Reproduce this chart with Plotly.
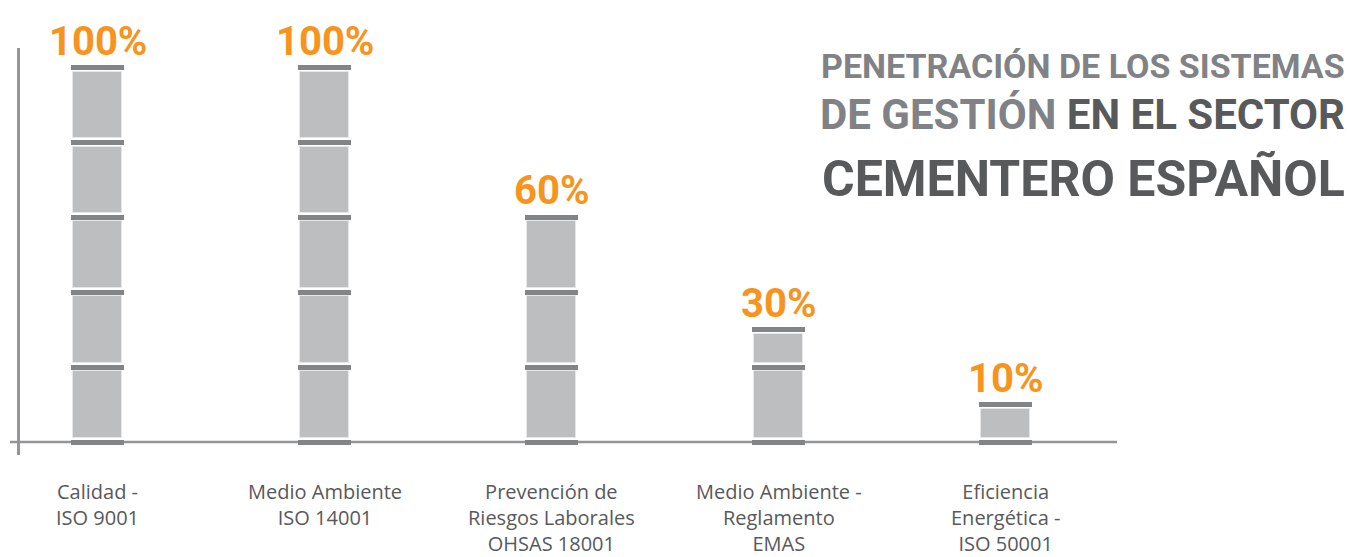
import plotly.graph_objects as go

# ---- data ----
categories = [
    "Calidad -<br>ISO 9001",
    "Medio Ambiente<br>ISO 14001",
    "Prevención de<br>Riesgos Laborales<br>OHSAS 18001",
    "Medio Ambiente -<br>Reglamento<br>EMAS",
    "Eficiencia<br>Energética -<br>ISO 50001",
]
values = [100, 100, 60, 30, 10]
value_labels = ["100%", "100%", "60%", "30%", "10%"]
segment_step = 20
title_lines = [
    "PENETRACIÓN DE LOS SISTEMAS",
    "DE GESTIÓN",
    "EN EL SECTOR",
    "CEMENTERO ESPAÑOL",
]

# ---- style ----
W, H = 1347, 557
ML, MR, MT, MB = 20, 230, 48, 102
PW, PH = W - ML - MR, H - MT - MB
ORANGE = "#f7941d"
CAP = "#838486"
SEG = "#bcbec0"
SEG_LINE = "#e6e7e8"
AXIS = "#939598"
GRAY_T = "#808285"
DARK_T = "#58595b"
COND = "Roboto, Liberation Sans, Arial, sans-serif"

px_per_unit_y = 3.745
cap_half = 2.5 / px_per_unit_y
gap = 1.6 / px_per_unit_y

seg_x, seg_base, seg_h = [], [], []
cap_x, cap_base = [], []
for i, v in enumerate(values):
    bounds = list(range(0, v, segment_step)) + [v]
    for b in bounds:
        cap_x.append(i)
        cap_base.append(b - cap_half)
    for lo, hi in zip(bounds[:-1], bounds[1:]):
        lo2 = lo + cap_half + gap
        hi2 = hi - cap_half - gap
        seg_x.append(i)
        seg_base.append(lo2)
        seg_h.append(hi2 - lo2)

fig = go.Figure()
fig.add_trace(go.Bar(
    x=seg_x, y=seg_h, base=seg_base, width=49 / 227,
    marker=dict(color=SEG, line=dict(color=SEG_LINE, width=1)),
    hoverinfo="skip", showlegend=False,
))
fig.add_trace(go.Bar(
    x=cap_x, y=[2 * cap_half] * len(cap_x), base=cap_base, width=53 / 227,
    marker=dict(color=CAP, line=dict(width=0)),
    hoverinfo="skip", showlegend=False,
))

# x range so bar centres land at 97.5 + 227*k px
r0 = -(97.5 - ML) / 227
r1 = r0 + PW / 227
y0 = -(H - MB - 442) / px_per_unit_y
y1 = (442 - MT) / px_per_unit_y

annotations = []
for i, (v, lab) in enumerate(zip(values, value_labels)):
    annotations.append(dict(
        x=i, y=v, xref="x", yref="y", text=lab, showarrow=False,
        yanchor="bottom", xanchor="center", yshift=1,
        font=dict(family=COND, size=40, color=ORANGE, weight="bold"),
    ))
for i, c in enumerate(categories):
    annotations.append(dict(
        x=i, y=(H - MB - 476) / PH, xref="x", yref="paper", text=c,
        showarrow=False, yanchor="top", xanchor="center", align="center",
        font=dict(family="Open Sans, Lato, sans-serif", size=20, color=DARK_T),
    ))

def py(p):
    return (H - MB - p) / PH

xr = (1347 - ML) / PW
annotations.append(dict(
    x=xr, y=py(66.5), xref="paper", yref="paper", text=title_lines[0],
    showarrow=False, xanchor="right", yanchor="middle",
    font=dict(family=COND, size=34, color=GRAY_T, weight="bold"),
))
annotations.append(dict(
    x=xr, y=py(114), xref="paper", yref="paper",
    text=f"{title_lines[1]} <span style='color:{DARK_T}'>{title_lines[2]}</span>",
    showarrow=False, xanchor="right", yanchor="middle",
    font=dict(family=COND, size=42, color=GRAY_T, weight="bold"),
))
annotations.append(dict(
    x=xr, y=py(178.5), xref="paper", yref="paper", text=title_lines[3],
    showarrow=False, xanchor="right", yanchor="middle",
    font=dict(family=COND, size=50, color=DARK_T, weight="bold"),
))

fig.update_layout(
    width=W, height=H,
    margin=dict(l=ML, r=MR, t=MT, b=MB),
    paper_bgcolor="white", plot_bgcolor="white",
    barmode="overlay", bargap=0,
    xaxis=dict(range=[r0, r1], showgrid=False, zeroline=False,
               showticklabels=False, showline=False, fixedrange=True),
    yaxis=dict(range=[y0, y1], showgrid=False, zeroline=False,
               showticklabels=False, showline=True, linecolor=AXIS,
               linewidth=3, fixedrange=True),
    shapes=[dict(type="line", xref="paper", yref="y",
                 x0=-10 / PW, x1=1, y0=0, y1=0,
                 line=dict(color=AXIS, width=2.5), layer="below")],
    annotations=annotations,
)
fig.write_html("out.html", config={"displayModeBar": False},
               post_script="document.body.style.margin='0';document.body.style.overflow='hidden';")
